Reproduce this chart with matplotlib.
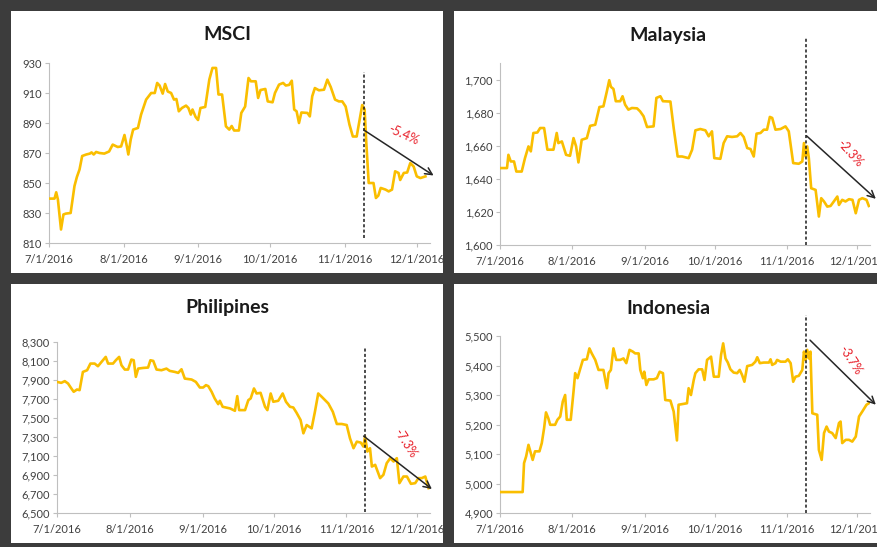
import matplotlib
matplotlib.use("Agg")
import matplotlib.pyplot as plt
from matplotlib.patches import Rectangle
from matplotlib.ticker import FuncFormatter

plt.rcParams["font.family"] = ["Lato", "DejaVu Sans"]

# ---- data: index levels, x = days since 7/1/2016 ----
tick_days = [0, 31, 62, 92, 123, 153]
tick_labels = ["7/1/2016", "8/1/2016", "9/1/2016", "10/1/2016", "11/1/2016", "12/1/2016"]
event_day = 131  # 11/9/2016

msci_days = [0, 2.3, 3, 3.7, 5, 6, 7, 9, 10.6, 11.6, 12.7, 13.8, 15.5, 17, 17.7, 18.6, 19.6, 21, 23,
             25, 26.5, 28.6, 30, 31.4, 32.4, 33, 34, 35, 37, 38.3, 40.4, 42.5, 44, 45, 46, 47.3, 48.3,
             49.4, 50.8, 52, 53, 54, 55.3, 57, 58, 59, 59.7, 61, 62, 63, 65, 66.7, 68, 69.5, 70.5, 72,
             73.6, 75, 76, 77, 79, 80, 81.6, 83, 84, 86, 87, 88, 90, 91, 93, 94, 95.7, 97.4, 98.5,
             99.9, 101, 102, 103, 104, 105, 107.5, 108.5, 109.5, 110.6, 112.3, 114.4, 115.8, 117.2,
             119, 120.6, 122, 123.4, 125, 126.4, 128, 130.3, 131.3, 132, 133, 135, 136, 137, 138,
             140, 141.3, 142.7, 144, 145.4, 146.1, 147.6, 149, 150.3, 151.7, 153, 154.5, 156.6]
msci_vals = [839.6, 839.6, 843.8, 839, 819, 829, 829.6, 830, 848, 854, 859, 868, 869, 869.6, 870.4,
             869, 870.7, 870, 869.6, 871, 875.6, 874, 874.4, 882, 874.4, 869, 879, 885.6, 886.7,
             895.6, 905.6, 910, 910, 916.7, 915, 909.6, 916, 911, 910, 905.6, 906, 897.8, 900,
             901.6, 900, 895.6, 899, 894, 892, 900, 900.7, 919, 926.7, 926.7, 909, 909, 887.8,
             885.6, 888, 885, 885, 896.7, 901, 920, 917.8, 917.8, 906.7, 912, 912.7, 904.4, 903.8,
             910, 915.6, 916.7, 915, 915.4, 918.2, 899, 897.8, 890, 897, 896.7, 894.4, 907.8, 913.3,
             911.8, 912.2, 918.9, 914, 905.6, 904.4, 904.4, 901, 888.9, 881, 881, 902, 899, 876.7,
             850, 850, 840, 841.6, 846.7, 845.6, 844.4, 845.6, 857.8, 856.7, 852, 856.7, 857, 863.3,
             861, 854.4, 853.3, 854.4]

mys_days = [0, 3, 3.6, 4.6, 6, 7, 9.3, 10.7, 12.2, 13.2, 14.3, 16, 17.2, 18.9, 20.3, 22.9, 24.3,
            25, 26.5, 28.3, 30, 31.5, 32.6, 33.6, 35, 37.2, 38.6, 40.8, 42.6, 44.3, 45.8, 46.8,
            47.5, 48.6, 49.6, 51.5, 52.5, 53.6, 55, 56.5, 58.7, 60, 61.5, 63, 65.8, 67, 68.7, 69.8,
            73, 74.4, 76.1, 78, 80.8, 82.3, 83.7, 85.8, 88, 89.4, 90.8, 91.8, 94.4, 95.8, 97.3,
            99.4, 101.6, 103, 104.4, 105.9, 107.3, 108.7, 109.9, 111.6, 113, 114.4, 115.6, 116.6,
            118, 120.2, 122.3, 123.7, 125.6, 128, 129.5, 130.2, 130.9, 131.6, 132.3, 133.3, 135.2,
            136.6, 137.6, 138.8, 140.2, 141.6, 143, 144.5, 145.2, 146.6, 148, 149.5, 151, 152.4,
            153.8, 155.2, 157, 158]
mys_vals = [1646.5, 1646.5, 1654.5, 1650.5, 1650.5, 1644.4, 1644.4, 1652.5, 1659.6, 1656.6,
            1667.7, 1668, 1670.7, 1670.7, 1657.6, 1657.6, 1667.7, 1661.6, 1662.6, 1654.5, 1653.9,
            1664.6, 1659.6, 1649.9, 1663.6, 1664.6, 1672, 1672.7, 1683.4, 1683.8, 1693, 1699.6,
            1695.6, 1694.3, 1686.9, 1686.9, 1689.9, 1684.8, 1681.8, 1682.8, 1682.6, 1680.8,
            1677.8, 1671.3, 1671.7, 1688.9, 1689.9, 1686.9, 1686.7, 1670.7, 1653.5, 1653.5,
            1652.5, 1657.6, 1669.3, 1670.1, 1669.3, 1665.7, 1668.7, 1652.5, 1652.1, 1661.6,
            1665.7, 1665.3, 1665.7, 1667.7, 1665.3, 1658.6, 1658, 1653.5, 1667.3, 1667.7, 1669.7,
            1669.7, 1677.4, 1676.8, 1669.7, 1670.1, 1671.7, 1668.7, 1649.5, 1649.1, 1650.5,
            1661.6, 1653.5, 1659.6, 1652.5, 1634.3, 1633.3, 1617.2, 1628.3, 1626.3, 1623.2,
            1623.6, 1626.3, 1629.3, 1624.2, 1627.3, 1626.3, 1627.7, 1627.3, 1619.2, 1627.3,
            1628.3, 1627.3, 1623.6]

phl_days = [0, 1.8, 3.3, 4.7, 6.1, 7.1, 8.5, 9.6, 11, 12.8, 14.2, 16, 17.4, 18.9, 20.7, 21.7, 23.8,
            25, 26.4, 27.4, 28.8, 30.2, 31.6, 32.6, 33.5, 34.5, 36.6, 38.7, 39.7, 40.9, 42.3, 44.4,
            46.5, 47.9, 50.1, 51.5, 52.9, 54.3, 57.2, 59, 60.7, 62.1, 63.3, 64.3, 65.7, 67, 68.5,
            69.2, 70.4, 73.5, 75.6, 76.6, 77.4, 79.9, 81.3, 82.3, 83.7, 84.8, 86.5, 88.4, 89.4,
            90.8, 91.9, 94, 95.9, 97.3, 99, 100.4, 101.8, 103.5, 104.7, 106.1, 108.2, 109.6, 111,
            112.5, 113.9, 115.3, 117.2, 118.9, 121, 123.1, 124.5, 126, 127.4, 129.1, 130.2, 130.9,
            131.9, 133, 133.8, 135.2, 137.3, 138.7, 140.1, 141.6, 143, 144.4, 145.5, 147.2, 148.7,
            150.4, 152.2, 153.6, 155, 156.5, 157.9]
phl_vals = [7880, 7870, 7888, 7863, 7811, 7776, 7800, 7793, 7985, 8003, 8073, 8073, 8045, 8090,
            8143, 8073, 8073, 8108, 8143, 8055, 8010, 8010, 8115, 8108, 7933, 8020, 8027, 8031,
            8108, 8101, 8010, 8003, 8020, 7996, 7985, 7975, 8013, 7915, 7905, 7880, 7821, 7821,
            7846, 7835, 7776, 7706, 7646, 7681, 7618, 7601, 7576, 7730, 7583, 7583, 7688, 7706,
            7811, 7758, 7765, 7618, 7583, 7758, 7671, 7681, 7758, 7671, 7618, 7611, 7555, 7479,
            7339, 7426, 7391, 7566, 7758, 7723, 7688, 7653, 7566, 7437, 7437, 7426, 7286, 7182,
            7251, 7241, 7199, 7304, 7147, 7182, 6989, 7007, 6867, 6902, 7024, 7077, 7042, 7077,
            6814, 6884, 6884, 6807, 6814, 6867, 6867, 6884, 6762]

idn_days = [0, 9.7, 10.3, 11.2, 12.2, 13.2, 14, 15, 16.9, 17.9, 18.9, 19.7, 20.7, 21.5, 23.6,
            24.6, 25.8, 26.9, 27.9, 28.6, 30.3, 31.5, 32.2, 33.2, 34, 35.5, 37.2, 38.3, 39.3, 40.8,
            42.2, 44.3, 45.8, 46.5, 47.5, 48.6, 49.8, 51.5, 52.9, 54.1, 55.5, 56.9, 57.9, 59.4,
            60.1, 61.2, 61.8, 62.7, 63.7, 65.8, 67.2, 68.4, 69.8, 70.8, 73, 74.4, 75.8, 76.5, 78.7,
            80.1, 80.8, 81.8, 83, 83.7, 85.1, 86.6, 87.6, 88.7, 90.4, 91.6, 93.7, 94.7, 95.6,
            96.6, 97.6, 98.7, 100.1, 101.6, 102.7, 103.7, 104.7, 105.9, 108, 109.4, 110.2, 111.3,
            113, 115.2, 115.9, 116.6, 118, 118.7, 120.2, 122.3, 123.3, 124.5, 125.6, 126.6, 128,
            129.5, 130.2, 130.9, 131.6, 132.3, 133, 133.8, 135.9, 136.6, 137.8, 138.8, 139.9,
            140.9, 142.3, 143.8, 145.2, 145.9, 146.6, 148.1, 149.5, 150.9, 152.4, 153.8, 155.2,
            157, 158]
idn_vals = [4971, 4971, 5069, 5092, 5131, 5103, 5080, 5109, 5109, 5137, 5188, 5241, 5221, 5199,
            5199, 5216, 5227, 5278, 5300, 5216, 5216, 5312, 5374, 5357, 5379, 5419, 5421, 5458,
            5441, 5419, 5385, 5385, 5323, 5374, 5385, 5458, 5419, 5419, 5424, 5408, 5453, 5447,
            5441, 5441, 5385, 5357, 5379, 5334, 5353, 5353, 5357, 5379, 5374, 5283, 5281, 5244,
            5146, 5267, 5270, 5272, 5323, 5300, 5351, 5374, 5387, 5387, 5351, 5419, 5430, 5362,
            5362, 5436, 5475, 5424, 5410, 5387, 5376, 5374, 5385, 5368, 5345, 5398, 5402, 5413,
            5428, 5408, 5410, 5410, 5421, 5402, 5408, 5419, 5413, 5413, 5421, 5408, 5345, 5362,
            5365, 5385, 5447, 5419, 5453, 5424, 5447, 5238, 5233, 5114, 5080, 5171, 5193, 5176,
            5171, 5154, 5205, 5210, 5137, 5148, 5148, 5142, 5159, 5227, 5244, 5267, 5272]

titles = ["MSCI", "Malaysia", "Philipines", "Indonesia"]
changes = ["-5.4%", "-2.3%", "-7.3%", "-3.7%"]

# ---- layout (pixels) ----
W, H = 878, 547
BG = "#3c3c3c"
LINE = "#FABE00"
AXIS = "#BFBFBF"
TXT = "#404040"


def frac(x0, y0, x1, y1):
    return [x0 / W, 1 - y1 / H, (x1 - x0) / W, (y1 - y0) / H]


fig = plt.figure(figsize=(W / 100, H / 100), dpi=100, facecolor="white")

panels = [
    dict(days=msci_days, vals=msci_vals, rect=(49, 63, 430, 243), ylim=(810, 930), step=20,
         comma=False, title_xy=(227, 35), vline=(813.3, 924),
         arrow=((131, 885.3), (160, 855)), label_xy=(147.5, 882), rot=-24),
    dict(days=mys_days, vals=mys_vals, rect=(500, 63, 870, 245), ylim=(1600, 1710), step=20,
         comma=True, title_xy=(668, 35), vline=(1600, 1725),
         arrow=((131.3, 1666), (161, 1627.9)), label_xy=(150, 1655.6), rot=-48),
    dict(days=phl_days, vals=phl_vals, rect=(57, 342, 430, 513), ylim=(6500, 8300), step=200,
         comma=True, title_xy=(227, 308), vline=(6510, 8247),
         arrow=((130.3, 7310), (159.3, 6752)), label_xy=(148, 7234), rot=-57),
    dict(days=idn_days, vals=idn_vals, rect=(500, 336, 870, 513), ylim=(4900, 5500), step=100,
         comma=True, title_xy=(668, 308), vline=(4900, 5571),
         arrow=((132.8, 5486), (161, 5267)), label_xy=(150.2, 5419), rot=-57),
]

for p, title, chg in zip(panels, titles, changes):
    ax = fig.add_axes(frac(*p["rect"]))
    ax.set_facecolor("none")
    ax.plot(p["days"], p["vals"], color=LINE, lw=1.9, solid_joinstyle="round", zorder=3)
    ax.set_xlim(0, 158.5)
    ax.set_ylim(*p["ylim"])
    lo, hi = p["ylim"]
    ax.set_yticks(list(range(lo, hi + 1, p["step"])))
    if p["comma"]:
        ax.yaxis.set_major_formatter(FuncFormatter(lambda v, pos: f"{int(v):,}"))
    ax.set_xticks(tick_days)
    ax.set_xticklabels(tick_labels)
    for side in ("top", "right"):
        ax.spines[side].set_visible(False)
    for side in ("left", "bottom"):
        ax.spines[side].set_color(AXIS)
        ax.spines[side].set_linewidth(0.8)
    ax.tick_params(axis="both", colors=AXIS, labelcolor=TXT, labelsize=8, length=3, width=0.8)
    ax.tick_params(axis="x", pad=5)
    ax.tick_params(axis="y", pad=2)

    # election-day marker
    ax.plot([event_day, event_day], p["vline"], color="#1a1a1a", lw=1.1,
            ls=(0, (2, 1.5)), clip_on=False, zorder=4)
    # trend arrow and change label
    (x0, y0), (x1, y1) = p["arrow"]
    ax.annotate("", xy=(x1, y1), xytext=(x0, y0), annotation_clip=False,
                arrowprops=dict(arrowstyle="->,head_length=0.5,head_width=0.25",
                                color="#262626", lw=1.1, shrinkA=0, shrinkB=0), zorder=5)
    ax.text(*p["label_xy"], chg, color="#E8202A", fontsize=9, rotation=p["rot"],
            ha="center", va="center", rotation_mode="anchor", zorder=5)

    tx, ty = p["title_xy"]
    fig.text(tx / W, 1 - ty / H, title, ha="center", va="center", fontsize=14,
             fontweight="bold", color="#1a1a1a")

# dark frame between and around the four panels
strips = [(0, 0, 11, H), (0, 0, W, 11), (443, 0, 454, H), (0, 273, W, 284), (0, 543, W, H)]
for (x0, y0, x1, y1) in strips:
    fig.add_artist(Rectangle((x0 / W, 1 - y1 / H), (x1 - x0) / W, (y1 - y0) / H,
                             transform=fig.transFigure, facecolor=BG, edgecolor="none",
                             zorder=50))

fig.savefig("out.png", dpi=100, facecolor=fig.get_facecolor())
